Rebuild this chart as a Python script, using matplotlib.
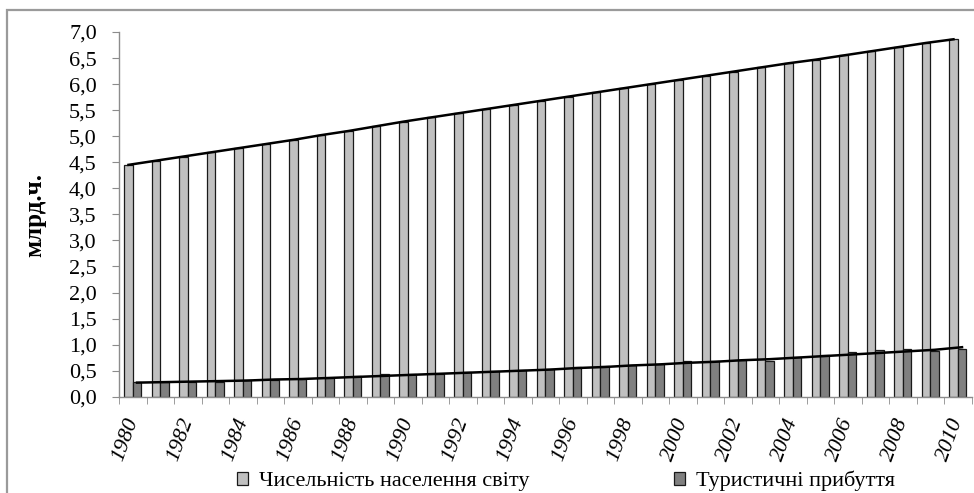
import matplotlib
matplotlib.use('Agg')
import matplotlib.pyplot as plt
from matplotlib.patches import Rectangle
from matplotlib.ticker import FixedLocator, FuncFormatter
import numpy as np

plt.rcParams['font.family'] = ['Liberation Serif', 'DejaVu Serif']

# дані
years = list(range(1980, 2011))
population = [4.45, 4.53, 4.61, 4.69, 4.77, 4.85, 4.93, 5.02, 5.10, 5.19,
              5.28, 5.36, 5.44, 5.52, 5.60, 5.68, 5.76, 5.84, 5.92, 6.00,
              6.08, 6.16, 6.24, 6.32, 6.40, 6.47, 6.55, 6.63, 6.71, 6.79, 6.86]
tourists = [0.28, 0.28, 0.29, 0.29, 0.32, 0.33, 0.34, 0.36, 0.39, 0.43,
            0.44, 0.44, 0.48, 0.50, 0.52, 0.54, 0.57, 0.59, 0.61, 0.63,
            0.68, 0.68, 0.70, 0.69, 0.76, 0.80, 0.85, 0.90, 0.92, 0.88, 0.92]
tourists_line = [0.27, 0.28, 0.29, 0.30, 0.31, 0.33, 0.34, 0.36, 0.38, 0.40,
                 0.42, 0.44, 0.46, 0.48, 0.50, 0.52, 0.55, 0.57, 0.60, 0.62,
                 0.65, 0.67, 0.70, 0.72, 0.75, 0.78, 0.81, 0.84, 0.87, 0.90, 0.95]
tick_labels = [str(y) for y in years[::2]]
legend_labels = ['Чисельність населення світу', 'Туристичні прибуття']

W, H = 974, 493
fig = plt.figure(figsize=(W / 100, H / 100), dpi=100)
ax = fig.add_axes([119 / W, 1 - 396.7 / H, (971.5 - 119) / W, (396.7 - 32) / H])

x = np.arange(len(years))
bw = 0.31
b1 = ax.bar(x - bw / 2, population, bw, color='#c0c0c0', edgecolor='#1a1a1a',
            linewidth=0.9, label=legend_labels[0], zorder=2)
b2 = ax.bar(x + bw / 2, tourists, bw, color='#808080', edgecolor='#1a1a1a',
            linewidth=0.9, label=legend_labels[1], zorder=2)
ax.plot(x - bw / 2, population, color='black', lw=1.8, zorder=3)
ax.plot(x + bw / 2, tourists_line, color='black', lw=1.8, zorder=3)

ax.set_xlim(-0.5, len(years) - 0.5)
ax.set_ylim(0, 7)
ax.set_yticks(np.arange(0, 7.01, 0.5))
ax.yaxis.set_major_formatter(FuncFormatter(lambda v, p: f'{v:.1f}'.replace('.', ',')))
ax.set_xticks(x[::2])
ax.set_xticklabels(tick_labels, rotation=70, ha='right', va='center',
                   rotation_mode='anchor', fontstyle='italic', fontsize=16)
ax.xaxis.set_minor_locator(FixedLocator(np.arange(-0.5, len(years), 1)))
ax.tick_params(axis='x', which='major', length=0, pad=16)
ax.tick_params(axis='x', which='minor', length=5, color='#8c8c8c')
ax.tick_params(axis='y', length=5, color='#8c8c8c', labelsize=16, pad=11)

for s in ['top', 'right']:
    ax.spines[s].set_visible(False)
for s in ['left', 'bottom']:
    ax.spines[s].set_color('#8c8c8c')
    ax.spines[s].set_linewidth(1.0)

fig.text(35 / W, 1 - 215 / H, 'млрд.ч.', rotation=90, fontsize=18,
         fontweight='bold', ha='center', va='center')

fig.legend(handles=[b1, b2], labels=legend_labels, loc='center',
           bbox_to_anchor=(566 / W, 1 - 481 / H), ncol=2, frameon=False,
           fontsize=16, handlelength=0.5, handleheight=0.5, handletextpad=0.5,
           columnspacing=6.5, borderaxespad=0, borderpad=0)

fig.patches.append(Rectangle((7 / W, -0.05), 1.1, 1 - 10 / H + 0.05,
                             transform=fig.transFigure, fill=False,
                             edgecolor='#9a9a9a', linewidth=1.6))

fig.savefig('out.png', dpi=100)
